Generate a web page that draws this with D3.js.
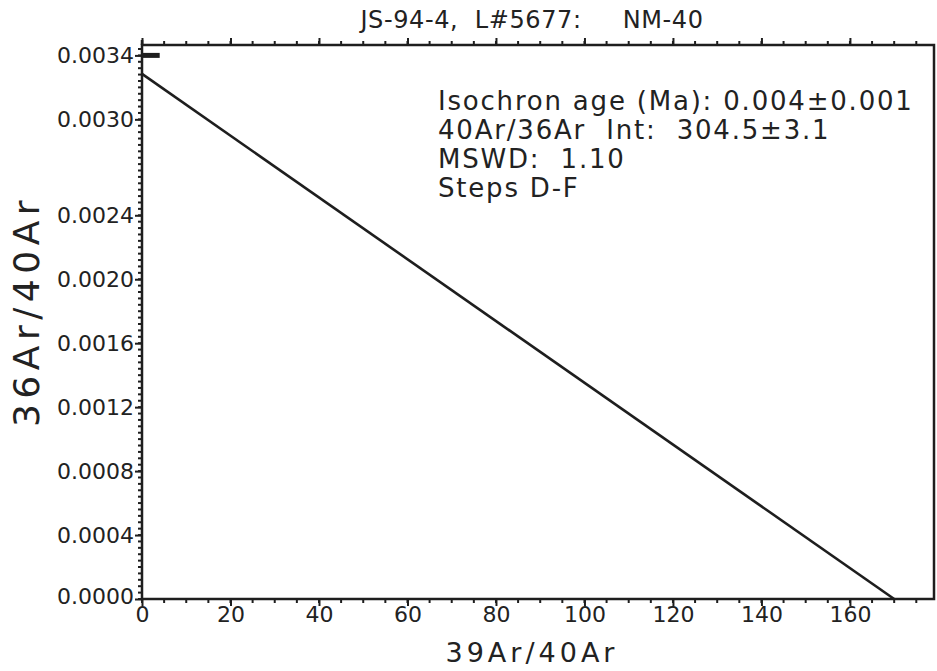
<!DOCTYPE html>
<html>
<head>
<meta charset="utf-8">
<script src="https://cdn.jsdelivr.net/npm/d3@7"></script>
<style>
  html, body { margin: 0; padding: 0; background: #fff; }
  svg { display: block; }
  text { font-family: "DejaVu Sans", "Noto Sans", sans-serif; fill: #222; }
</style>
</head>
<body>
<svg id="chart" width="937" height="671"></svg>
<script>
// Isochron fit: 36Ar/40Ar vs 39Ar/40Ar
const title = "JS-94-4,  L#5677:     NM-40";
const xLabel = "39Ar/40Ar";
const yLabel = "36Ar/40Ar";

const xTicks = [0, 20, 40, 60, 80, 100, 120, 140, 160];
const yTicks = [0.0000, 0.0004, 0.0008, 0.0012, 0.0016, 0.0020, 0.0024, 0.0030, 0.0034];

// regression line: trapped 40Ar/36Ar intercept and 39Ar/40Ar intercept
const trappedRatio = 304.5;
const xIntercept = 170;
const fitLine = [
  { x: 0, y: 1 / trappedRatio },
  { x: xIntercept, y: 0 }
];

// step D-F points (error bars collapse to a short bar near the y-axis)
const stepPoints = [
  { x0: 0, x1: 4, y: 0.0034 }
];

const statLines = [
  "Isochron age (Ma): 0.004\u00B10.001",
  "40Ar/36Ar  Int:  304.5\u00B13.1",
  "MSWD:  1.10",
  "Steps D-F"
];

const svg = d3.select("#chart");
const margin = { left: 142, right: 3, top: 45, bottom: 72 };
const W = 937, H = 671;

const x = d3.scaleLinear().domain([0, 179]).range([margin.left, W - margin.right]);
const y = d3.scaleLinear().domain([0, 0.003465]).range([H - margin.bottom, margin.top]);

const ink = "#1e1e1e";

// minor ticks
const g = svg.append("g");
const xMinor = d3.range(0, 180, 5);
const yMinor = d3.range(0, 0.00346, 0.00004);

g.selectAll(".xminb").data(xMinor).join("line")
  .attr("x1", d => x(d)).attr("x2", d => x(d))
  .attr("y1", y(0)).attr("y2", y(0) + 4)
  .attr("stroke", ink).attr("stroke-width", 2);
g.selectAll(".xmint").data(xMinor).join("line")
  .attr("x1", d => x(d)).attr("x2", d => x(d))
  .attr("y1", y.range()[1]).attr("y2", y.range()[1] - 4)
  .attr("stroke", ink).attr("stroke-width", 2);
g.selectAll(".ymin").data(yMinor).join("line")
  .attr("x1", x(0) - 4).attr("x2", x(0))
  .attr("y1", d => y(d)).attr("y2", d => y(d))
  .attr("stroke", ink).attr("stroke-width", 2);

// bottom axis with labels
const xAxis = d3.axisBottom(x).tickValues(xTicks).tickSize(7).tickPadding(0)
  .tickFormat(d3.format("d"));
const gx = svg.append("g").attr("transform", `translate(0,${y(0)})`).call(xAxis);
gx.select(".domain").remove();
gx.selectAll(".tick line").attr("stroke", ink).attr("stroke-width", 2);
gx.selectAll(".tick text").attr("font-size", 22).attr("fill", "#222");

// top axis major ticks
const gt = svg.append("g").attr("transform", `translate(0,${y.range()[1]})`)
  .call(d3.axisTop(x).tickValues(xTicks).tickSize(7).tickFormat(""));
gt.select(".domain").remove();
gt.selectAll(".tick line").attr("stroke", ink).attr("stroke-width", 2);

// left axis with labels
const yAxis = d3.axisLeft(y).tickValues(yTicks).tickSize(7).tickPadding(1)
  .tickFormat(d3.format(".4f"));
const gy = svg.append("g").attr("transform", `translate(${x(0)},0)`).call(yAxis);
gy.select(".domain").remove();
gy.selectAll(".tick line").attr("stroke", ink).attr("stroke-width", 2);
gy.selectAll(".tick text").attr("font-size", 22).attr("fill", "#222");
gy.selectAll(".tick text").filter(d => d === 0).attr("dy", "0.2em");

// frame
svg.append("rect")
  .attr("x", x(0)).attr("y", y.range()[1])
  .attr("width", x.range()[1] - x(0)).attr("height", y(0) - y.range()[1])
  .attr("fill", "none").attr("stroke", ink).attr("stroke-width", 2.5);
// small extension of y-axis above frame
svg.append("line")
  .attr("x1", x(0)).attr("x2", x(0))
  .attr("y1", y.range()[1] - 5).attr("y2", y.range()[1])
  .attr("stroke", ink).attr("stroke-width", 2.5);

// fitted isochron
svg.append("path")
  .datum(fitLine)
  .attr("d", d3.line().x(d => x(d.x)).y(d => y(d.y)))
  .attr("fill", "none").attr("stroke", ink).attr("stroke-width", 2.6);

// step points
svg.selectAll(".step").data(stepPoints).join("line")
  .attr("x1", d => x(d.x0)).attr("x2", d => x(d.x1))
  .attr("y1", d => y(d.y)).attr("y2", d => y(d.y))
  .attr("stroke", ink).attr("stroke-width", 5);

// title
svg.append("text")
  .attr("x", 532).attr("y", 28)
  .attr("text-anchor", "middle").attr("font-size", 24)
  .attr("letter-spacing", 0.6)
  .attr("xml:space", "preserve")
  .text(title);

// axis titles
svg.append("text")
  .attr("x", 532).attr("y", 662)
  .attr("text-anchor", "middle").attr("font-size", 27)
  .attr("letter-spacing", 4)
  .text(xLabel);
svg.append("text")
  .attr("transform", "translate(39,311) rotate(-90)")
  .attr("text-anchor", "middle").attr("font-size", 36)
  .attr("letter-spacing", 5.5)
  .text(yLabel);

// statistics block
svg.append("g").selectAll("text").data(statLines).join("text")
  .attr("x", 438).attr("y", (d, i) => 110 + i * 29)
  .attr("font-size", 26)
  .attr("letter-spacing", 1.8)
  .attr("xml:space", "preserve")
  .text(d => d);
</script>
</body>
</html>
